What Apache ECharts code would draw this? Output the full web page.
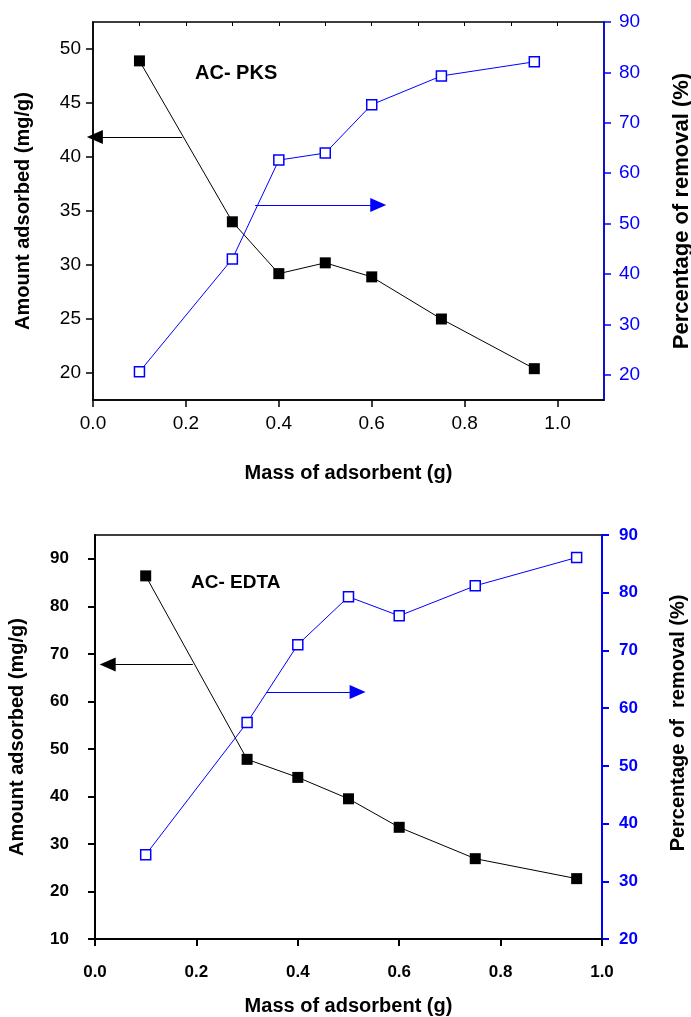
<!DOCTYPE html>
<html>
<head>
<meta charset="utf-8">
<script src="https://cdn.jsdelivr.net/npm/echarts@6/dist/echarts.min.js"></script>
<style>
  html, body { margin: 0; padding: 0; background: #fff; }
  #chart { width: 691px; height: 1017px; }
</style>
</head>
<body>
<div id="chart"></div>
<script>
// mass of adsorbent (g), same for both panels
var massValues = [0.1, 0.3, 0.4, 0.5, 0.6, 0.75, 0.95];

// AC- PKS
var pksAmount = [48.9, 34.0, 29.2, 30.2, 28.9, 25.0, 20.4];
var pksRemoval = [20.6, 43.0, 62.6, 64.0, 73.6, 79.3, 82.1];

// AC- EDTA
var edtaAmount = [86.4, 47.8, 44.0, 39.5, 33.5, 26.9, 22.7];
var edtaRemoval = [34.6, 57.5, 71.0, 79.3, 76.0, 81.2, 86.1];

// tick labels
var xTicks = [0, 0.2, 0.4, 0.6, 0.8, 1.0];
var xTopTicks = [0.1, 0.2, 0.3, 0.4, 0.5, 0.6, 0.7, 0.8, 0.9, 1.0];
var pksAmountTicks = [20, 25, 30, 35, 40, 45, 50];
var pksRemovalTicks = [20, 30, 40, 50, 60, 70, 80, 90];
var edtaAmountTicks = [10, 20, 30, 40, 50, 60, 70, 80, 90];

var BLUE = "#0000ff";
var FONT = "Liberation Sans, Arial, sans-serif";

function pairs(xs, ys) {
  return xs.map(function (x, i) { return [x, ys[i]]; });
}

function arrow(color, from, to) {
  return {
    silent: true,
    animation: false,
    label: { show: false },
    lineStyle: { color: color, width: 1.2, type: "solid" },
    symbol: ["none", "triangle"],
    symbolSize: [14, 16],
    data: [[{ coord: from }, { coord: to }]]
  };
}

var chart = echarts.init(document.getElementById("chart"));

var option = {
  animation: false,
  backgroundColor: "#fff",
  grid: [
    { left: 93, top: 22, right: 87, height: 378, show: true, borderColor: "#000", borderWidth: 1.5, outerBoundsMode: "none" },
    { left: 95, top: 535, right: 89, height: 404, show: true, borderColor: "#000", borderWidth: 1.5, outerBoundsMode: "none" }
  ],
  xAxis: [
    {
      gridIndex: 0, type: "value", position: "bottom", min: 0, max: 1.1,
      name: "Mass of adsorbent (g)", nameLocation: "middle", nameGap: 63,
      nameTextStyle: { color: "#000", fontSize: 20, fontWeight: "bold", fontFamily: FONT },
      axisLine: { onZero: false, lineStyle: { color: "#000", width: 1.5 } },
      axisTick: { length: 7, lineStyle: { color: "#000", width: 1.5 }, customValues: xTicks },
      axisLabel: {
        color: "#000", fontSize: 19, fontFamily: FONT, margin: 14, customValues: xTicks,
        formatter: function (v) { return v.toFixed(1); }
      },
      splitLine: { show: false }
    },
    {
      gridIndex: 1, type: "value", position: "bottom", min: 0, max: 1.0, interval: 0.2,
      name: "Mass of adsorbent (g)", nameLocation: "middle", nameGap: 57,
      nameTextStyle: { color: "#000", fontSize: 20, fontWeight: "bold", fontFamily: FONT },
      axisLine: { onZero: false, lineStyle: { color: "#000", width: 2 } },
      axisTick: { length: 7, lineStyle: { color: "#000", width: 2 } },
      axisLabel: {
        color: "#000", fontSize: 17, fontWeight: "bold", fontFamily: FONT, margin: 25,
        formatter: function (v) { return v.toFixed(1); }
      },
      splitLine: { show: false }
    },
    {
      // small ticks along the top frame of the upper panel
      gridIndex: 0, type: "value", position: "top", min: 0, max: 1.1,
      axisLine: { show: false, onZero: false },
      axisTick: { show: true, inside: true, length: 4, lineStyle: { color: "#000", width: 1 }, customValues: xTopTicks },
      axisLabel: { show: false },
      splitLine: { show: false }
    }
  ],
  yAxis: [
    {
      gridIndex: 0, type: "value", position: "left", min: 17.5, max: 52.5,
      name: "Amount adsorbed (mg/g)", nameLocation: "middle", nameGap: 60,
      nameTextStyle: { color: "#000", fontSize: 20, fontWeight: "bold", fontFamily: FONT },
      axisLine: { show: true, onZero: false, lineStyle: { color: "#000", width: 1.5 } },
      axisTick: { show: true, length: 7, lineStyle: { color: "#000", width: 1.5 }, customValues: pksAmountTicks },
      axisLabel: { color: "#000", fontSize: 19, fontFamily: FONT, margin: 12, customValues: pksAmountTicks },
      splitLine: { show: false }
    },
    {
      gridIndex: 0, type: "value", position: "right", min: 15, max: 90,
      name: "Percentage of removal (%)", nameLocation: "middle", nameGap: 67, nameRotate: 90,
      nameTextStyle: { color: "#000", fontSize: 22, fontWeight: "bold", fontFamily: FONT },
      axisLine: { show: true, onZero: false, lineStyle: { color: BLUE, width: 1.5 } },
      axisTick: { show: true, length: 7, lineStyle: { color: BLUE, width: 1.5 }, customValues: pksRemovalTicks },
      axisLabel: { color: BLUE, fontSize: 19, fontFamily: FONT, margin: 15, customValues: pksRemovalTicks },
      splitLine: { show: false }
    },
    {
      gridIndex: 1, type: "value", position: "left", min: 10, max: 95,
      name: "Amount adsorbed (mg/g)", nameLocation: "middle", nameGap: 68,
      nameTextStyle: { color: "#000", fontSize: 20, fontWeight: "bold", fontFamily: FONT },
      axisLine: { show: true, onZero: false, lineStyle: { color: "#000", width: 2 } },
      axisTick: { show: true, length: 7, lineStyle: { color: "#000", width: 2 }, customValues: edtaAmountTicks },
      axisLabel: { color: "#000", fontSize: 17, fontWeight: "bold", fontFamily: FONT, margin: 26, customValues: edtaAmountTicks },
      splitLine: { show: false }
    },
    {
      gridIndex: 1, type: "value", position: "right", min: 20, max: 90, interval: 10,
      name: "Percentage of  removal (%)", nameLocation: "middle", nameGap: 66, nameRotate: 90,
      nameTextStyle: { color: "#000", fontSize: 20, fontWeight: "bold", fontFamily: FONT, padding: [0, 0, 0, 28] },
      axisLine: { show: true, onZero: false, lineStyle: { color: BLUE, width: 2 } },
      axisTick: { show: true, length: 7, lineStyle: { color: BLUE, width: 2 } },
      axisLabel: { color: BLUE, fontSize: 17, fontWeight: "bold", fontFamily: FONT, margin: 17 },
      splitLine: { show: false }
    }
  ],
  graphic: [
    { type: "text", left: 195, top: 63, style: { text: "AC- PKS", fill: "#000", font: "bold 20px " + FONT } },
    { type: "text", left: 191, top: 573, style: { text: "AC- EDTA", fill: "#000", font: "bold 19px " + FONT } }
  ],
  series: [
    {
      name: "PKS amount", type: "line", xAxisIndex: 0, yAxisIndex: 0,
      data: pairs(massValues, pksAmount),
      symbol: "rect", symbolSize: 11,
      itemStyle: { color: "#000" },
      lineStyle: { color: "#000", width: 1 },
      markLine: arrow("#000", [0.192, 41.85], [0.004, 41.85])
    },
    {
      name: "PKS removal", type: "line", xAxisIndex: 0, yAxisIndex: 1,
      data: pairs(massValues, pksRemoval),
      symbol: "rect", symbolSize: 10,
      itemStyle: { color: "#fff", borderColor: BLUE, borderWidth: 1.5 },
      lineStyle: { color: BLUE, width: 1 },
      markLine: arrow(BLUE, [0.349, 53.7], [0.614, 53.7])
    },
    {
      name: "EDTA amount", type: "line", xAxisIndex: 1, yAxisIndex: 2,
      data: pairs(massValues, edtaAmount),
      symbol: "rect", symbolSize: 11,
      itemStyle: { color: "#000" },
      lineStyle: { color: "#000", width: 1 },
      markLine: arrow("#000", [0.193, 67.75], [0.025, 67.75])
    },
    {
      name: "EDTA removal", type: "line", xAxisIndex: 1, yAxisIndex: 3,
      data: pairs(massValues, edtaRemoval),
      symbol: "rect", symbolSize: 10,
      itemStyle: { color: "#fff", borderColor: BLUE, borderWidth: 1.5 },
      lineStyle: { color: BLUE, width: 1 },
      markLine: arrow(BLUE, [0.338, 62.8], [0.518, 62.8])
    }
  ]
};

chart.setOption(option);
</script>
</body>
</html>
